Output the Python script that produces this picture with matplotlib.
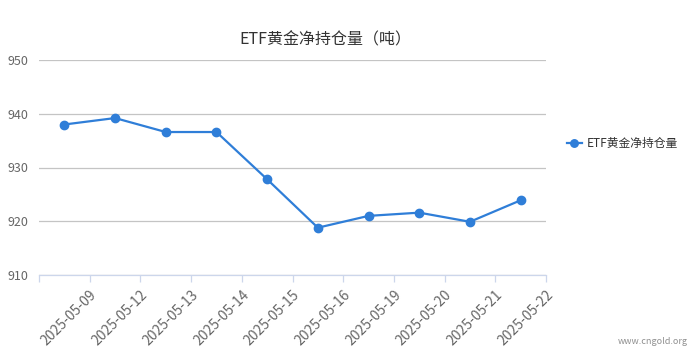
import matplotlib
matplotlib.use("Agg")
import matplotlib.pyplot as plt
import numpy as np

# data
dates = ['2025-05-09', '2025-05-12', '2025-05-13', '2025-05-14', '2025-05-15',
         '2025-05-16', '2025-05-19', '2025-05-20', '2025-05-21', '2025-05-22']
holdings = [938.0, 939.2, 936.6, 936.6, 927.8, 918.8, 921.0, 921.6, 919.9, 923.9]
y_ticks = [910, 920, 930, 940, 950]

title = 'ETF黄金净持仓量（吨）'
series_name = 'ETF黄金净持仓量'

plt.rcParams['font.family'] = ['Noto Sans CJK SC', 'DejaVu Sans']

line_color = '#2f7ed8'
axis_color = '#ccd6eb'
grid_color = '#c4c4c4'
label_color = '#666666'

fig = plt.figure(figsize=(6.94, 3.57), dpi=100)
ax = fig.add_axes([39 / 694, (357 - 275) / 357, (546 - 39) / 694, 215 / 357])

x = np.arange(len(dates))
ax.plot(x, holdings, color=line_color, linewidth=1.6, marker='o', markersize=6,
        label=series_name, zorder=3)

ax.set_xlim(-0.5, len(dates) - 0.5)
ax.set_ylim(y_ticks[0], y_ticks[-1])
ax.set_yticks(y_ticks)
ax.yaxis.grid(True, color=grid_color, linewidth=0.9)
ax.set_axisbelow(True)

# ticks sit on the band edges, labels end at the right edge of each band
ax.set_xticks(np.arange(-0.5, len(dates), 1.0))
ax.set_xticklabels([''] + dates, rotation=45, ha='right', rotation_mode='anchor',
                   fontsize=10, color=label_color)
ax.tick_params(axis='x', length=5, color=axis_color, width=0.9, pad=4)
ax.tick_params(axis='y', length=0, labelsize=9, labelcolor=label_color, pad=8)

for side in ['left', 'right', 'top']:
    ax.spines[side].set_visible(False)
ax.spines['bottom'].set_color(axis_color)
ax.spines['bottom'].set_linewidth(0.9)

fig.text(325 / 694, 1 - 40 / 357, title, ha='center', va='center',
         fontsize=11.5, color='#333333')

leg = ax.legend(loc='center left', bbox_to_anchor=(1.02, 0.61), frameon=False,
                fontsize=8.5, handlelength=1.3, handletextpad=0.4, markerscale=0.9)
for t in leg.get_texts():
    t.set_color('#333333')

fig.text(688 / 694, 1 - 341 / 357, 'www.cngold.org', ha='right', va='center',
         fontsize=6.5, color='#909090')

fig.savefig('out.png', dpi=100)
